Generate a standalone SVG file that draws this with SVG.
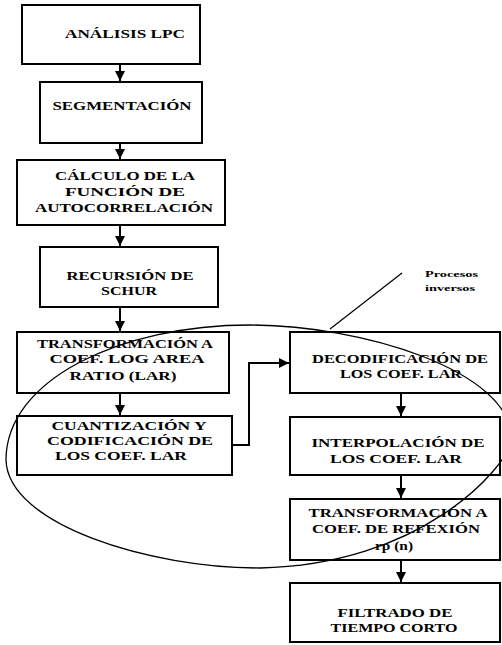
<svg xmlns="http://www.w3.org/2000/svg" width="502" height="645" viewBox="0 0 502 645">
<style>
.box{fill:#fff;stroke:#000;stroke-width:2}
.t{font-family:"Liberation Serif","Times New Roman",serif;font-weight:bold;font-size:12.5px;fill:#000;text-anchor:middle}
.s{font-family:"Liberation Serif","Times New Roman",serif;font-weight:bold;font-size:9px;fill:#000}
.c{fill:none;stroke:#000;stroke-width:2}
.e{fill:none;stroke:#000;stroke-width:1.3}
</style>
<defs>
<marker id="ah" markerUnits="userSpaceOnUse" markerWidth="12" markerHeight="12" viewBox="0 0 12 12" refX="11" refY="6" orient="auto">
<path d="M1,1 L11,6 L1,11 Z" fill="#000"/>
</marker>
</defs>
<rect width="502" height="645" fill="#fff"/>

<g id="connectors">
<line class="c" x1="120" y1="64" x2="120" y2="81" marker-end="url(#ah)"/>
<line class="c" x1="120" y1="143" x2="120" y2="159" marker-end="url(#ah)"/>
<line class="c" x1="120" y1="225" x2="120" y2="246" marker-end="url(#ah)"/>
<line class="c" x1="120" y1="307" x2="120" y2="331" marker-end="url(#ah)"/>
<line class="c" x1="120" y1="393" x2="120" y2="415" marker-end="url(#ah)"/>
<polyline class="c" points="232,445 249,445 249,363 289,363" marker-end="url(#ah)"/>
<line class="c" x1="401" y1="393" x2="401" y2="416" marker-end="url(#ah)"/>
<line class="c" x1="401" y1="475" x2="401" y2="498" marker-end="url(#ah)"/>
<line class="c" x1="401" y1="560" x2="401" y2="582" marker-end="url(#ah)"/>
</g>

<g id="n1"><rect class="box" x="22" y="5" width="178" height="59"/>
<text class="t" x="125" y="38" textLength="120" lengthAdjust="spacingAndGlyphs">ANÁLISIS LPC</text></g>

<g id="n2"><rect class="box" x="40" y="82" width="162" height="61"/>
<text class="t" x="122" y="110" textLength="139" lengthAdjust="spacingAndGlyphs">SEGMENTACIÓN</text></g>

<g id="n3"><rect class="box" x="17" y="160" width="208" height="65"/>
<text class="t" x="125" y="180" textLength="140" lengthAdjust="spacingAndGlyphs">CÁLCULO DE LA</text>
<text class="t" x="125" y="196" textLength="120" lengthAdjust="spacingAndGlyphs">FUNCIÓN DE</text>
<text class="t" x="124" y="212" textLength="178" lengthAdjust="spacingAndGlyphs">AUTOCORRELACIÓN</text></g>

<g id="n4"><rect class="box" x="40" y="247" width="178" height="60"/>
<text class="t" x="130" y="280" textLength="127" lengthAdjust="spacingAndGlyphs">RECURSIÓN DE</text>
<text class="t" x="129" y="295" textLength="56" lengthAdjust="spacingAndGlyphs">SCHUR</text></g>

<g id="n5"><rect class="box" x="17" y="332" width="212" height="61"/>
<text class="t" x="125" y="348" textLength="176" lengthAdjust="spacingAndGlyphs">TRANSFORMACIÓN A</text>
<text class="t" x="127" y="363" textLength="155" lengthAdjust="spacingAndGlyphs">COEF. LOG AREA</text>
<text class="t" x="123" y="380" textLength="107" lengthAdjust="spacingAndGlyphs">RATIO (LAR)</text></g>

<g id="n6"><rect class="box" x="17" y="416" width="215" height="59"/>
<text class="t" x="129" y="430" textLength="155" lengthAdjust="spacingAndGlyphs">CUANTIZACIÓN Y</text>
<text class="t" x="130" y="445" textLength="166" lengthAdjust="spacingAndGlyphs">CODIFICACIÓN DE</text>
<text class="t" x="121" y="460" textLength="132" lengthAdjust="spacingAndGlyphs">LOS COEF. LAR</text></g>

<g id="n7"><rect class="box" x="290" y="332" width="210" height="61"/>
<text class="t" x="400" y="363" textLength="176" lengthAdjust="spacingAndGlyphs">DECODIFICACIÓN DE</text>
<text class="t" x="401" y="378" textLength="122" lengthAdjust="spacingAndGlyphs">LOS COEF. LAR</text></g>

<g id="n8"><rect class="box" x="290" y="417" width="210" height="58"/>
<text class="t" x="398" y="447" textLength="173" lengthAdjust="spacingAndGlyphs">INTERPOLACIÓN DE</text>
<text class="t" x="396" y="463" textLength="132" lengthAdjust="spacingAndGlyphs">LOS COEF. LAR</text></g>

<g id="n9"><rect class="box" x="290" y="499" width="210" height="61"/>
<text class="t" x="398" y="517" textLength="179" lengthAdjust="spacingAndGlyphs">TRANSFORMACIÓN A</text>
<text class="t" x="396" y="533" textLength="168" lengthAdjust="spacingAndGlyphs">COEF. DE REFEXIÓN</text>
<text class="t" x="394" y="550" textLength="38" lengthAdjust="spacingAndGlyphs">rp (n)</text></g>

<g id="n10"><rect class="box" x="290" y="583" width="210" height="59"/>
<text class="t" x="395" y="617" textLength="115" lengthAdjust="spacingAndGlyphs">FILTRADO DE</text>
<text class="t" x="394" y="632" textLength="127" lengthAdjust="spacingAndGlyphs">TIEMPO CORTO</text></g>

<g id="ellipse">
<path class="e" d="M6,460 C6,380 120,325 250,325 C360,325 512,370 512,440 C505,470 420,565 260,568 C150,568 8,525 6,460 Z"/>
</g>

<g id="note">
<line x1="330" y1="329" x2="402" y2="273" stroke="#000" stroke-width="1.2"/>
<text class="s" x="425" y="277" textLength="53" lengthAdjust="spacingAndGlyphs">Procesos</text>
<text class="s" x="425" y="291" textLength="50" lengthAdjust="spacingAndGlyphs">inversos</text>
</g>
</svg>
